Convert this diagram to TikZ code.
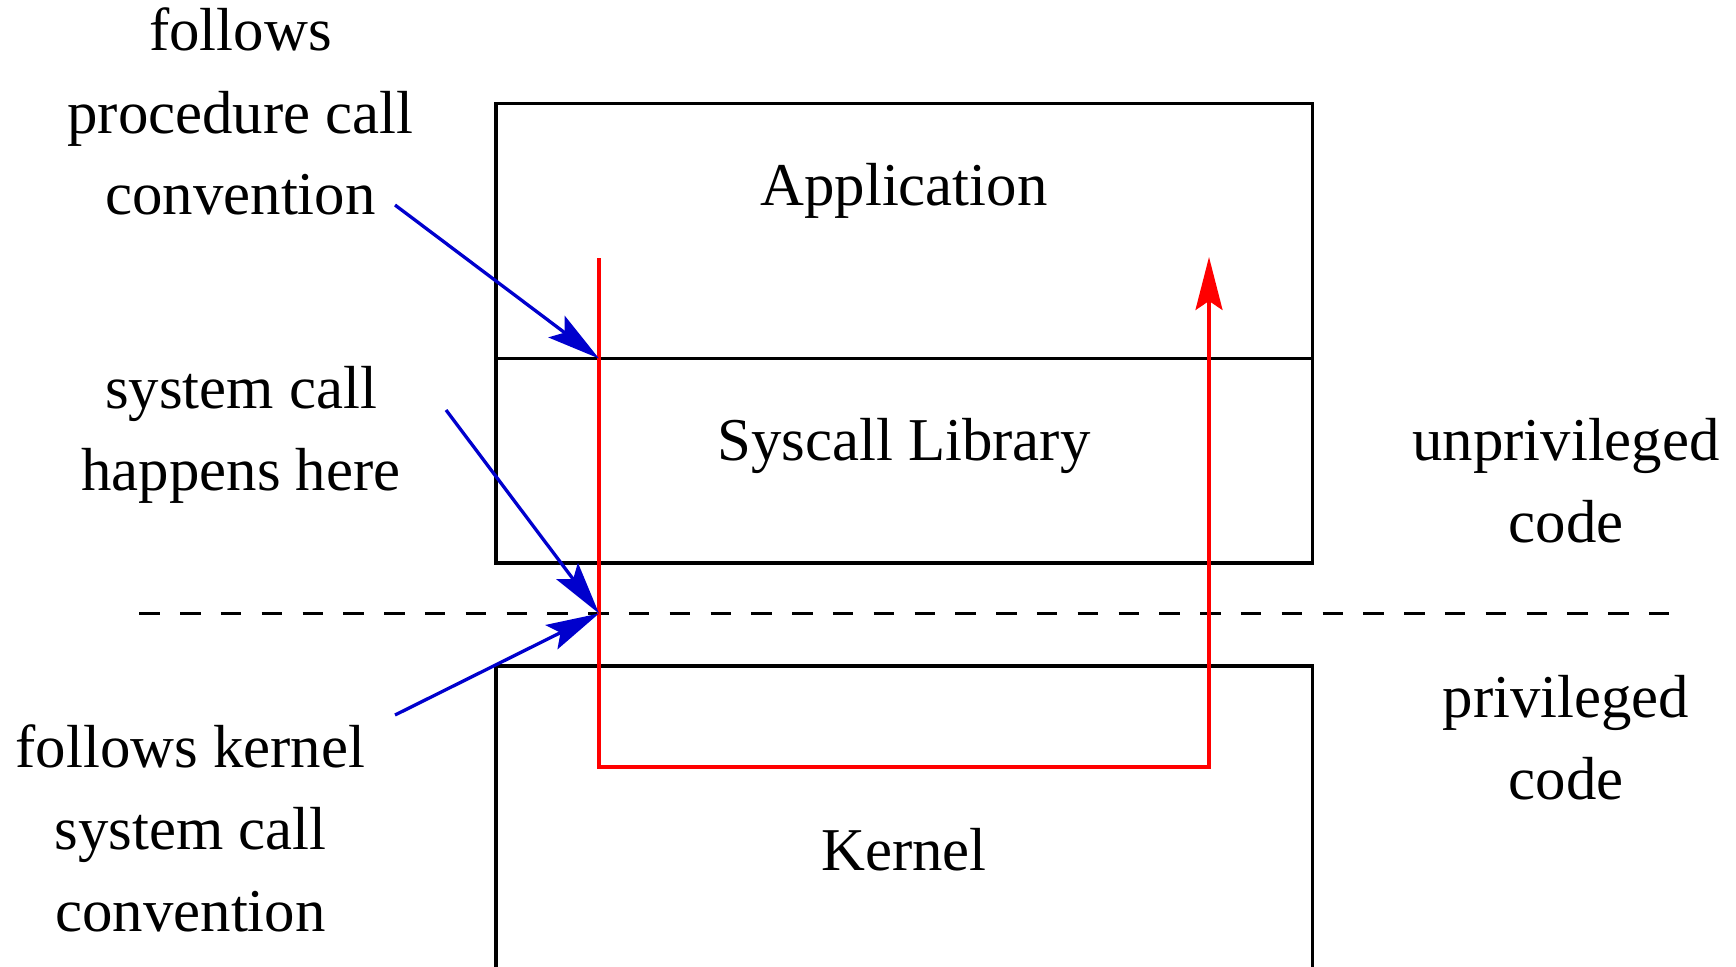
\documentclass[tikz,border=0pt]{standalone}
\usepackage{fontspec}
\setmainfont{Liberation Serif}
\usetikzlibrary{arrows.meta}
\definecolor{arrowblue}{RGB}{0,0,205}
\definecolor{flowred}{RGB}{255,0,0}
\begin{document}
\begin{tikzpicture}[x=1pt,y=-1pt,
  box/.style={draw=black, line width=3.8pt},
  lbl/.style={inner sep=0pt, anchor=base, font=\fontsize{60.8}{82}\selectfont},
  pointer/.style={draw=arrowblue, line width=3.3pt, -{Stealth[length=53pt,width=27pt,inset=10pt]}},
  flow/.style={draw=flowred, line width=3.2pt},
  flowtip/.style={-{Stealth[length=53pt,width=27pt,inset=9pt]}},
  divider/.style={draw=black, line width=3.6pt, dash pattern=on 20.4pt off 20.4pt}]
\useasboundingbox (0,0) rectangle (1736,966);

% boxes
\draw[box] (496,103.5) rectangle (1312.5,358.5);
\draw[box] (496,358.5) rectangle (1312.5,563);
\draw[box] (496,975) -- (496,666) -- (1312.5,666) -- (1312.5,975);

% privilege boundary
\coordinate (dashL) at (139.3,613.5);
\coordinate (dashR) at (1670,613.5);
\draw[divider] (dashL) -- (dashR);

% box texts
\node[lbl] (appTxt) at (904,205) {Application};
\node[lbl] (libTxt) at (904,460) {Syscall Library};
\node[lbl] (kerTxt) at (904,870) {Kernel};

% side notes
\node[lbl] (procNote) at (240.5,51) {\begin{tabular}[t]{@{}c@{}}follows\\procedure call\\convention\end{tabular}};
\node[lbl] (sysNote) at (241,408) {\begin{tabular}[t]{@{}c@{}}system call\\happens here\end{tabular}};
\node[lbl] (kernNote) at (190.5,767) {\begin{tabular}[t]{@{}c@{}}follows kernel\\system call\\convention\end{tabular}};
\node[lbl] (unpriv) at (1566,460) {\begin{tabular}[t]{@{}c@{}}unprivileged\\code\end{tabular}};
\node[lbl] (priv) at (1566,717) {\begin{tabular}[t]{@{}c@{}}privileged\\code\end{tabular}};

% control flow
\coordinate (fStart) at (599,258);
\coordinate (fDown) at (599,767);
\coordinate (fRight) at (1209,767);
\coordinate (fEnd) at (1209,257);
\draw[flow, flowtip] (fStart) -- (fDown) -- (fRight) -- (fEnd);

% pointers
\coordinate (hit1) at (599,358.5);
\coordinate (hit2) at (599,613.5);
\coordinate (a1) at (395,205);
\coordinate (a2) at (446,410);
\coordinate (a3) at (395,715);
\draw[pointer] (a1) -- (hit1);
\draw[pointer] (a2) -- (hit2);
\draw[pointer] (a3) -- (hit2);
\end{tikzpicture}
\end{document}
